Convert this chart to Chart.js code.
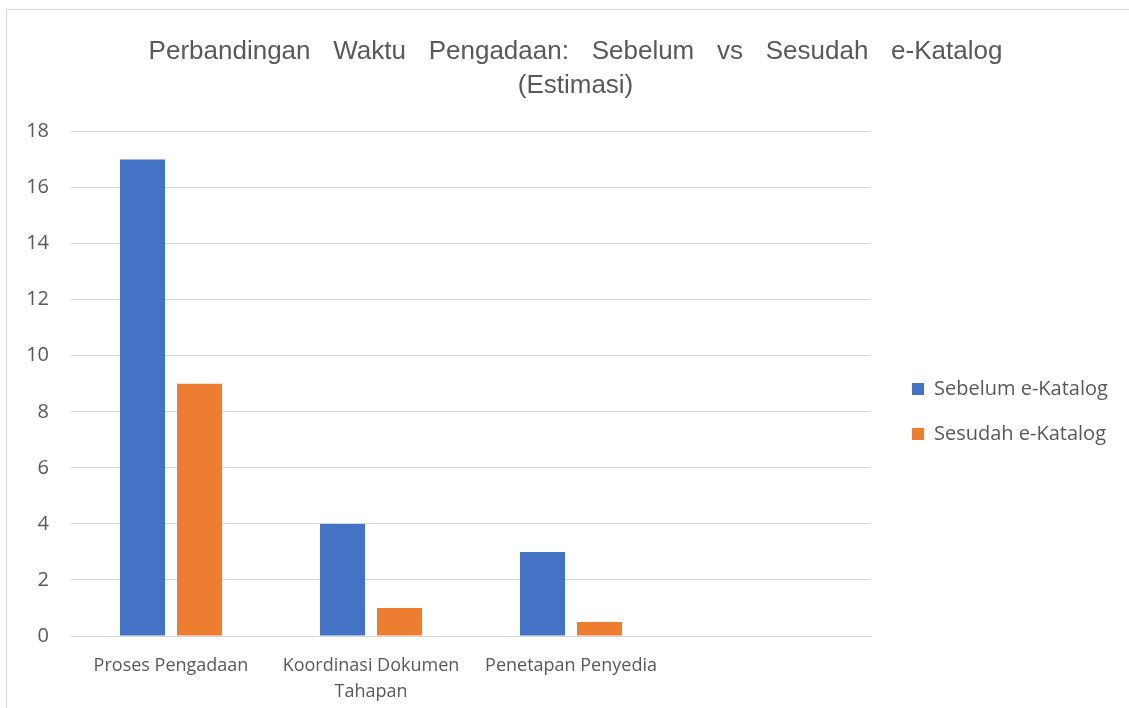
<!DOCTYPE html>
<html>
<head>
<meta charset="utf-8">
<script src="https://cdn.jsdelivr.net/npm/chart.js@4/dist/chart.umd.min.js"></script>
<style>
  html, body { margin: 0; padding: 0; background: #fff; overflow: hidden; width: 1129px; height: 708px; }
  .frame { position: absolute; left: 6px; top: 9px; width: 1137px; height: 803px; border: 1px solid #d9d9d9; }
  canvas { display: block; }
</style>
</head>
<body>
<div class="frame"><canvas id="chart" width="1137" height="803"></canvas></div>
<script>
// Waktu pengadaan, sebelum vs sesudah e-Katalog
const categories = ['Proses Pengadaan', ['Koordinasi Dokumen', 'Tahapan'], 'Penetapan Penyedia', ''];
const sebelum = [17, 4, 3, null];
const sesudah = [9, 1, 0.5, null];
const seriesNames = ['Sebelum e-Katalog', 'Sesudah e-Katalog'];
const titleLines = ['Perbandingan Waktu Pengadaan: Sebelum vs Sesudah e-Katalog', '(Estimasi)'];

const grey = '#595959';
const bodyFont = '"Open Sans", Lato, sans-serif';

const chart = new Chart(document.getElementById('chart'), {
  type: 'bar',
  data: {
    labels: categories,
    datasets: [
      { label: seriesNames[0], data: sebelum, backgroundColor: '#4472C4', categoryPercentage: 0.57, barPercentage: 0.79 },
      { label: seriesNames[1], data: sesudah, backgroundColor: '#ED7D31', categoryPercentage: 0.57, barPercentage: 0.79 },
    ],
  },
  options: {
    responsive: false,
    animation: false,
    layout: { padding: 0 },
    plugins: {
      title: {
        display: true,
        text: titleLines,
        color: grey,
        font: { family: '"Liberation Sans", Arial, sans-serif', size: 26, weight: 'normal', lineHeight: 1.3 },
        padding: { top: 25, bottom: 29 },
      },
      legend: {
        position: 'right',
        align: 'center',
        labels: {
          color: grey,
          font: { family: bodyFont, size: 20 },
          boxWidth: 12,
          boxHeight: 12,
          padding: 25,
        },
      },
      tooltip: { enabled: false },
    },
    scales: {
      x: {
        grid: { display: false },
        border: { color: '#d9d9d9', width: 1 },
        ticks: { color: grey, font: { family: bodyFont, size: 18, lineHeight: 1.44 }, padding: 9, maxRotation: 0, autoSkip: false },
        afterFit: (s) => { s.height = 177; },
      },
      y: {
        min: 0,
        max: 18,
        ticks: { stepSize: 2, color: grey, font: { family: bodyFont, size: 20 }, padding: 22 },
        grid: { color: '#d9d9d9', lineWidth: 1, drawTicks: false },
        border: { display: false },
        afterFit: (s) => { s.width = 64; },
      },
      // empty strip between plot and legend
      gap: {
        position: 'right',
        display: true,
        grid: { display: false },
        border: { display: false },
        ticks: { display: false },
        afterFit: (s) => { s.width = 16; },
      },
    },
  },
});

// legend is capped to a sixth of the width by the layout; give it its real room
const fitLegend = chart.legend.fit.bind(chart.legend);
chart.legend.fit = () => { fitLegend(); chart.legend.width = 257; };

// the title has wide gaps between words
const drawTitle = chart.titleBlock.draw.bind(chart.titleBlock);
chart.titleBlock.draw = (area) => {
  const ctx = chart.ctx;
  ctx.save();
  ctx.wordSpacing = '15.5px';
  drawTitle(area);
  ctx.restore();
};
chart.update();
</script>
</body>
</html>
